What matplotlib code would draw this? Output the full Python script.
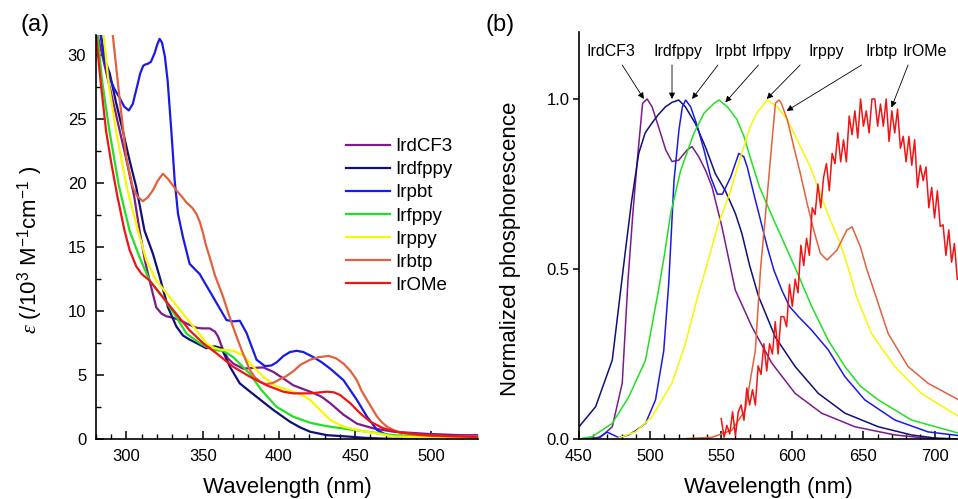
import matplotlib
matplotlib.use("Agg")
import matplotlib.pyplot as plt
from matplotlib.ticker import MultipleLocator, FormatStrFormatter

plt.rcParams['font.family'] = ['Liberation Sans', 'DejaVu Sans']
plt.rcParams['mathtext.fontset'] = 'custom'
plt.rcParams['mathtext.rm'] = 'Liberation Sans'
plt.rcParams['mathtext.it'] = 'Liberation Serif:italic'

names = ["IrdCF3", "Irdfppy", "Irpbt", "Irfppy", "Irppy", "Irbtp", "IrOMe"]
colors = ["#7d1a8e", "#10107a", "#1a1ae6", "#22e022", "#f7f700", "#e2613c", "#f01414"]

# (a) absorption, epsilon in 10^3 M-1 cm-1
abs_wl_IrdCF3 = [281, 290, 300, 305, 308.6, 312, 315.1, 319.5, 323, 326.1, 330, 334.9, 340, 345.9, 350, 354.6,
                 358, 360.1, 363.4, 366.5, 370, 376.5, 382, 389.7, 396.3, 402, 409.4, 416, 422.6, 428,
                 433.6, 442.3, 451.1, 462, 475.2, 497.1, 519, 530]
abs_eps_IrdCF3 = [31.6, 27.0, 21.8, 19.0, 16.3, 14.0, 12.4, 10.3, 9.8, 9.6, 9.5, 9.3, 9.0, 8.7, 8.65, 8.65,
                  8.4, 8.0, 6.95, 6.3, 5.9, 5.5, 5.55, 5.6, 5.25, 4.8, 4.2, 3.9, 3.6, 3.3,
                  2.8, 1.9, 1.2, 0.83, 0.57, 0.4, 0.3, 0.3]

abs_wl_Irdfppy = [283.3, 286, 289, 293, 297.6, 302, 306.4, 311.8, 317.3, 321.7, 327.2, 332.7, 337, 341,
                  345.9, 352.4, 357.9, 362.3, 365, 367.8, 374.3, 380, 385.3, 396.3, 407.2, 414, 420.4,
                  431.4, 446.7, 455, 470, 530]
abs_eps_Irdfppy = [31.6, 29.6, 28.6, 26.4, 24.1, 21.8, 19.7, 16.3, 14.5, 12.7, 10.3, 8.8, 8.1, 7.8,
                   7.5, 7.1, 7.25, 7.1, 6.4, 5.65, 4.35, 3.8, 3.3, 2.27, 1.35, 0.9, 0.57,
                   0.3, 0.18, 0.1, 0.02, 0.0]

abs_wl_Irpbt = [283, 285.5, 288.8, 292, 295.4, 298.5, 301.5, 304.1, 307.4, 309, 311, 312.5, 314, 316,
                318.5, 320, 321.7, 323.3, 325.2, 327, 329.4, 331.6, 333.8, 337, 341.4, 348, 356.8, 365.6,
                370, 374.3, 378.7, 385.3, 390.8, 395, 398.5, 403, 407.2, 411.6, 416, 422.6, 428, 433.6,
                442.3, 451.1, 457.7, 464.3, 470, 475.2, 490, 530]
abs_eps_Irpbt = [31.6, 29.6, 28.3, 27.4, 26.7, 26.0, 25.7, 26.2, 27.8, 28.6, 29.2, 29.3, 29.35, 29.5,
                 30.2, 30.8, 31.3, 31.0, 29.9, 28.0, 24.1, 20.2, 17.6, 15.8, 13.7, 12.9, 11.1, 9.3,
                 9.2, 9.25, 8.3, 6.2, 5.7, 5.75, 6.0, 6.5, 6.8, 6.9, 6.8, 6.4, 6.0, 5.5,
                 4.6, 3.05, 1.75, 0.7, 0.35, 0.23, 0.1, 0.1]

abs_wl_Irfppy = [281, 284, 288.8, 295, 302, 308.6, 315.1, 323.9, 332.7, 339.3, 348, 356.8, 363.4, 370,
                 375, 380.9, 388, 398.5, 409.4, 420.4, 431.4, 444.5, 457.7, 475.2, 492, 530]
abs_eps_Irfppy = [31.6, 28.0, 24.1, 19.8, 16.3, 14.2, 12.4, 11.1, 9.55, 8.25, 7.5, 6.95, 6.9, 6.4,
                  5.8, 5.1, 3.9, 2.5, 1.74, 1.27, 1.0, 0.78, 0.57, 0.3, 0.2, 0.1]

abs_wl_Irppy = [285, 288.5, 293.2, 300, 307.5, 313, 319.5, 328.3, 337, 345.9, 352.4, 356, 361.2, 370,
                376.5, 383.1, 389.7, 398.5, 409.4, 415, 420.4, 427, 433.6, 442.3, 453.3, 464.3, 475,
                500, 530]
abs_eps_Irppy = [31.6, 27.6, 24.1, 19.8, 16.3, 14.0, 12.4, 11.1, 9.8, 8.5, 7.5, 7.2, 7.0, 6.9,
                 6.55, 5.65, 4.87, 4.1, 3.7, 3.45, 3.05, 2.27, 1.48, 0.96, 0.65, 0.44, 0.2,
                 0.1, 0.05]

abs_wl_Irbtp = [291, 295.4, 299.8, 304.1, 307, 310.7, 314, 317.3, 320.5, 323.9, 327.5, 332.7, 336,
                339.3, 343, 345.9, 348, 350.2, 352, 354.6, 358, 363.4, 368, 372.2, 376, 380.9, 384,
                387.5, 391, 395.2, 398, 401, 404.5, 409.4, 414, 420.4, 426, 432.5, 437.5, 442.3, 447,
                451.1, 454, 457.7, 461, 464.3, 467.5, 470.9, 475, 479.6, 492.8, 510, 530]
abs_eps_Irbtp = [31.6, 26.7, 22.05, 19.7, 19.0, 18.6, 18.9, 19.45, 20.2, 20.75, 20.3, 19.45, 19.0,
                 18.5, 18.1, 17.6, 17.0, 16.1, 15.2, 14.2, 12.8, 11.1, 9.4, 8.0, 6.8, 5.4, 4.85,
                 4.5, 4.3, 4.35, 4.5, 4.7, 4.9, 5.3, 5.8, 6.2, 6.4, 6.5, 6.3, 5.9, 5.3,
                 4.6, 3.8, 3.05, 2.4, 1.75, 1.3, 0.96, 0.7, 0.5, 0.3, 0.2, 0.2]

abs_wl_IrOMe = [280, 283, 286.6, 290, 294, 298.7, 302, 306.4, 310, 315.1, 321.7, 330.5, 341.4, 350.2,
                359, 370, 380.9, 391.9, 402.8, 409.4, 420.4, 431.4, 436, 440.1, 446.7, 453.3, 459.9,
                468.6, 479.6, 497, 530]
abs_eps_IrOMe = [31.6, 28.0, 24.1, 21.6, 19.0, 16.3, 14.8, 13.5, 12.9, 12.4, 11.4, 10.1, 8.5, 7.5,
                 6.7, 5.65, 4.87, 4.2, 3.7, 3.57, 3.57, 3.7, 3.65, 3.44, 2.8, 2.0, 1.35,
                 0.83, 0.5, 0.3, 0.15]

# (b) normalized phosphorescence
em_wl_IrdCF3 = [450, 465, 473.4, 480.4, 484.5, 488, 491, 494.7, 497.9, 501.4, 507.3, 511, 515.4, 520.1,
                526, 529.5, 534.2, 539, 543.5, 550.5, 559.9, 571.6, 585.6, 602, 620.6, 644, 672, 700, 717]
em_I_IrdCF3 = [0, 0.005, 0.036, 0.164, 0.47, 0.67, 0.82, 0.987, 1.0, 0.977, 0.9, 0.85, 0.816, 0.82,
               0.85, 0.86, 0.83, 0.79, 0.742, 0.624, 0.438, 0.33, 0.223, 0.134, 0.076, 0.036, 0.012, 0.0, 0.0]

em_wl_Irdfppy = [450, 461.7, 473.4, 482.7, 487, 492, 496.5, 501.4, 506, 510.8, 515.4, 520.1, 524.8, 531.8,
                 538.8, 545.9, 552.9, 559.9, 564.5, 570, 576.2, 588, 602, 618.3, 637, 660.4, 683.7, 700, 717]
em_I_Irdfppy = [0.036, 0.095, 0.232, 0.556, 0.7, 0.84, 0.9, 0.93, 0.955, 0.977, 0.99, 0.997, 0.977, 0.928,
                0.86, 0.78, 0.73, 0.664, 0.605, 0.51, 0.42, 0.3, 0.213, 0.134, 0.076, 0.036, 0.012, 0.003, 0.0]

em_wl_Irpbt = [450, 462, 466, 469.9, 474, 478, 485, 490, 496.8, 503.8, 509.6, 513.1, 516.8, 520.3, 522.7,
               525, 528.5, 533.2, 537.9, 542.6, 547.3, 550.8, 556.6, 562.4, 565.9, 568.3, 573, 577.6,
               582.3, 587, 592.6, 598, 604.3, 613.6, 625.3, 637, 651, 672, 695.4, 717]
em_I_Irpbt = [0.0, 0.0, 0.01, 0.02, 0.012, 0.004, 0.012, 0.025, 0.046, 0.115, 0.26, 0.458, 0.76, 0.91, 0.977,
              0.997, 0.977, 0.92, 0.85, 0.77, 0.72, 0.72, 0.77, 0.84, 0.83, 0.8, 0.72, 0.644,
              0.566, 0.497, 0.438, 0.39, 0.36, 0.32, 0.262, 0.183, 0.115, 0.056, 0.021, 0.01]

em_wl_Irfppy = [450, 459.3, 473.4, 485, 496.8, 506, 510, 514.5, 521.5, 530.9, 537.9, 544.9, 548.4, 554.3,
                561, 566, 571, 577, 587, 596.4, 603.4, 613.6, 625.3, 637, 648, 660.4, 683.7, 717]
em_I_Irfppy = [0.0, 0.007, 0.046, 0.124, 0.232, 0.44, 0.54, 0.664, 0.79, 0.9, 0.958, 0.987, 0.997, 0.977,
               0.94, 0.89, 0.82, 0.74, 0.644, 0.556, 0.49, 0.39, 0.29, 0.213, 0.155, 0.115, 0.056, 0.017]

em_wl_Irppy = [476, 489.8, 501.4, 515.4, 524.8, 534.2, 541.2, 547.3, 556.6, 563.6, 570.6, 575.3, 582.3,
               589.3, 596.4, 603.4, 612.7, 619.7, 626.7, 633.7, 641, 645, 655.7, 672.1, 690.7, 717]
em_I_Irppy = [0.0, 0.021, 0.066, 0.164, 0.28, 0.43, 0.53, 0.624, 0.73, 0.83, 0.92, 0.96, 0.997,
              0.977, 0.94, 0.88, 0.8, 0.72, 0.644, 0.576, 0.48, 0.42, 0.31, 0.213, 0.134, 0.066]

em_wl_Irbtp = [520, 543.5, 557.5, 566.9, 574, 577.6, 582.3, 585.8, 588.1, 590.5, 592, 596.4, 601, 605.7,
               610.4, 615, 619.7, 624.4, 631.4, 638.4, 642, 647.8, 652.5, 655.7, 667.4, 681.4, 695.4, 717]
em_I_Irbtp = [0.0, 0.005, 0.026, 0.085, 0.26, 0.497, 0.713, 0.88, 0.987, 0.997, 0.99, 0.94, 0.86, 0.78,
              0.693, 0.615, 0.546, 0.526, 0.556, 0.615, 0.624, 0.566, 0.497, 0.458, 0.31, 0.213, 0.164, 0.115]

em_wl_IrOMe = [550, 552, 554, 556, 558, 560, 562, 564, 566, 568, 570, 572, 574, 576, 578, 580, 582, 584,
               586, 588, 590, 592, 594, 596, 598, 600, 602, 604, 606, 608, 610, 612, 614, 616, 618, 620,
               622, 624, 626, 628, 630, 632, 634, 636, 638, 640, 642, 644, 646, 648, 650, 652, 654, 656,
               658, 660, 662, 664, 666, 668, 670, 672, 674, 676, 678, 680, 682, 684, 686, 688, 690, 692,
               694, 696, 698, 700, 702, 704, 706, 708, 710, 712, 714, 716]
em_I_IrOMe = [0.06, 0.005, 0.04, 0.015, 0.08, 0.01, 0.08, 0.10, 0.055, 0.15, 0.10, 0.145, 0.10, 0.215,
              0.19, 0.28, 0.20, 0.28, 0.25, 0.345, 0.25, 0.36, 0.36, 0.33, 0.455, 0.39, 0.47, 0.43,
              0.57, 0.51, 0.59, 0.54, 0.68, 0.66, 0.75, 0.68, 0.77, 0.81, 0.73, 0.84, 0.81, 0.90,
              0.815, 0.88, 0.815, 0.95, 0.895, 0.965, 0.885, 1.0, 0.92, 0.965, 0.90, 1.0, 1.0, 0.92,
              0.985, 0.92, 1.0, 0.875, 0.965, 0.90, 0.97, 0.855, 0.89, 0.815, 0.89, 0.805, 0.88, 0.74,
              0.805, 0.76, 0.80, 0.68, 0.74, 0.65, 0.73, 0.625, 0.63, 0.54, 0.615, 0.52, 0.575, 0.47]

abs_data = [(abs_wl_IrdCF3, abs_eps_IrdCF3), (abs_wl_Irdfppy, abs_eps_Irdfppy), (abs_wl_Irpbt, abs_eps_Irpbt),
            (abs_wl_Irfppy, abs_eps_Irfppy), (abs_wl_Irppy, abs_eps_Irppy), (abs_wl_Irbtp, abs_eps_Irbtp),
            (abs_wl_IrOMe, abs_eps_IrOMe)]
em_data = [(em_wl_IrdCF3, em_I_IrdCF3), (em_wl_Irdfppy, em_I_Irdfppy), (em_wl_Irpbt, em_I_Irpbt),
           (em_wl_Irfppy, em_I_Irfppy), (em_wl_Irppy, em_I_Irppy), (em_wl_Irbtp, em_I_Irbtp),
           (em_wl_IrOMe, em_I_IrOMe)]

# annotation layout for panel (b): text x, arrow start x, arrow tip (x, y)
ann_text_x = [472.2, 519.6, 556.8, 585.1, 624.1, 662.7, 693.1]
ann_start_x = [480.4, 515.4, 547.7, 576.2, 605.5, 648.7, 681.4]
ann_tip = [(495.6, 1.0), (515.4, 1.0), (529.5, 1.0), (552.9, 0.99), (582.0, 1.0), (596.0, 0.965), (669.7, 0.975)]

fig = plt.figure(figsize=(9.58, 4.99), dpi=100)
ax1 = fig.add_axes([96 / 958, 60 / 499, 382 / 958, 404 / 499])
ax2 = fig.add_axes([579 / 958, 60 / 499, 379 / 958, 407 / 499])

for (wl, eps), name, c in zip(abs_data, names, colors):
    ax1.plot(wl, eps, color=c, lw=1.6, label=name)
for (wl, inten), c in zip(em_data, colors):
    ax2.plot(wl, inten, color=c, lw=1.1)

for ax in (ax1, ax2):
    ax.spines['top'].set_visible(False)
    ax.spines['right'].set_visible(False)
    ax.spines['left'].set_linewidth(1.2)
    ax.spines['bottom'].set_linewidth(1.2)
    ax.tick_params(labelsize=12)

ax1.set_xlim(280, 530.5)
ax1.set_ylim(0, 31.6)
ax1.xaxis.set_major_locator(MultipleLocator(50))
ax1.xaxis.set_minor_locator(MultipleLocator(10))
ax1.yaxis.set_major_locator(MultipleLocator(5))
ax1.yaxis.set_minor_locator(MultipleLocator(2.5))
ax1.tick_params(which='major', direction='in', length=6, width=1.1, pad=7)
ax1.tick_params(which='minor', direction='in', length=3.5, width=1.0)

ax2.set_xlim(450, 716.5)
ax2.set_ylim(0, 1.197)
ax2.xaxis.set_major_locator(MultipleLocator(50))
ax2.xaxis.set_minor_locator(MultipleLocator(10))
ax2.yaxis.set_major_locator(MultipleLocator(0.5))
ax2.yaxis.set_major_formatter(FormatStrFormatter('%.1f'))
ax2.tick_params(axis='x', which='major', direction='in', length=6, width=1.1, pad=7)
ax2.tick_params(axis='x', which='minor', direction='in', length=3.5, width=1.0)
ax2.tick_params(axis='y', which='major', direction='out', length=4, width=1.1, pad=3)

leg = ax1.legend(loc='upper left', bbox_to_anchor=(0.655, 0.745), frameon=False, fontsize=13.5,
                 handlelength=2.35, handletextpad=0.25, labelspacing=0.32, borderpad=0, borderaxespad=0)

for name, tx, sx, (px, py) in zip(names, ann_text_x, ann_start_x, ann_tip):
    ax2.text(tx, 1.139, name, ha='center', va='center', fontsize=11.5)
    ax2.annotate('', xy=(px, py), xytext=(sx, 1.10),
                 arrowprops=dict(arrowstyle='-|>', color='black', lw=0.6, mutation_scale=9,
                                 shrinkA=0, shrinkB=0))

fig.text(30 / 958, 0.5, r'$\mathit{\varepsilon}$ (/10$^3$ M$^{-1}$cm$^{-1}$ )', rotation=90,
         ha='center', va='center', fontsize=16)
fig.text(511 / 958, 1 - 249 / 499, 'Normalized phosphorescence', rotation=90,
         ha='center', va='center', fontsize=16)
fig.text(287 / 958, 1 - 488 / 499, 'Wavelength (nm)', ha='center', va='center', fontsize=16)
fig.text(768 / 958, 1 - 487 / 499, 'Wavelength (nm)', ha='center', va='center', fontsize=16)
fig.text(35 / 958, 1 - 25 / 499, '(a)', ha='center', va='center', fontsize=17)
fig.text(500 / 958, 1 - 25 / 499, '(b)', ha='center', va='center', fontsize=17)

fig.savefig('out.png', dpi=100)
